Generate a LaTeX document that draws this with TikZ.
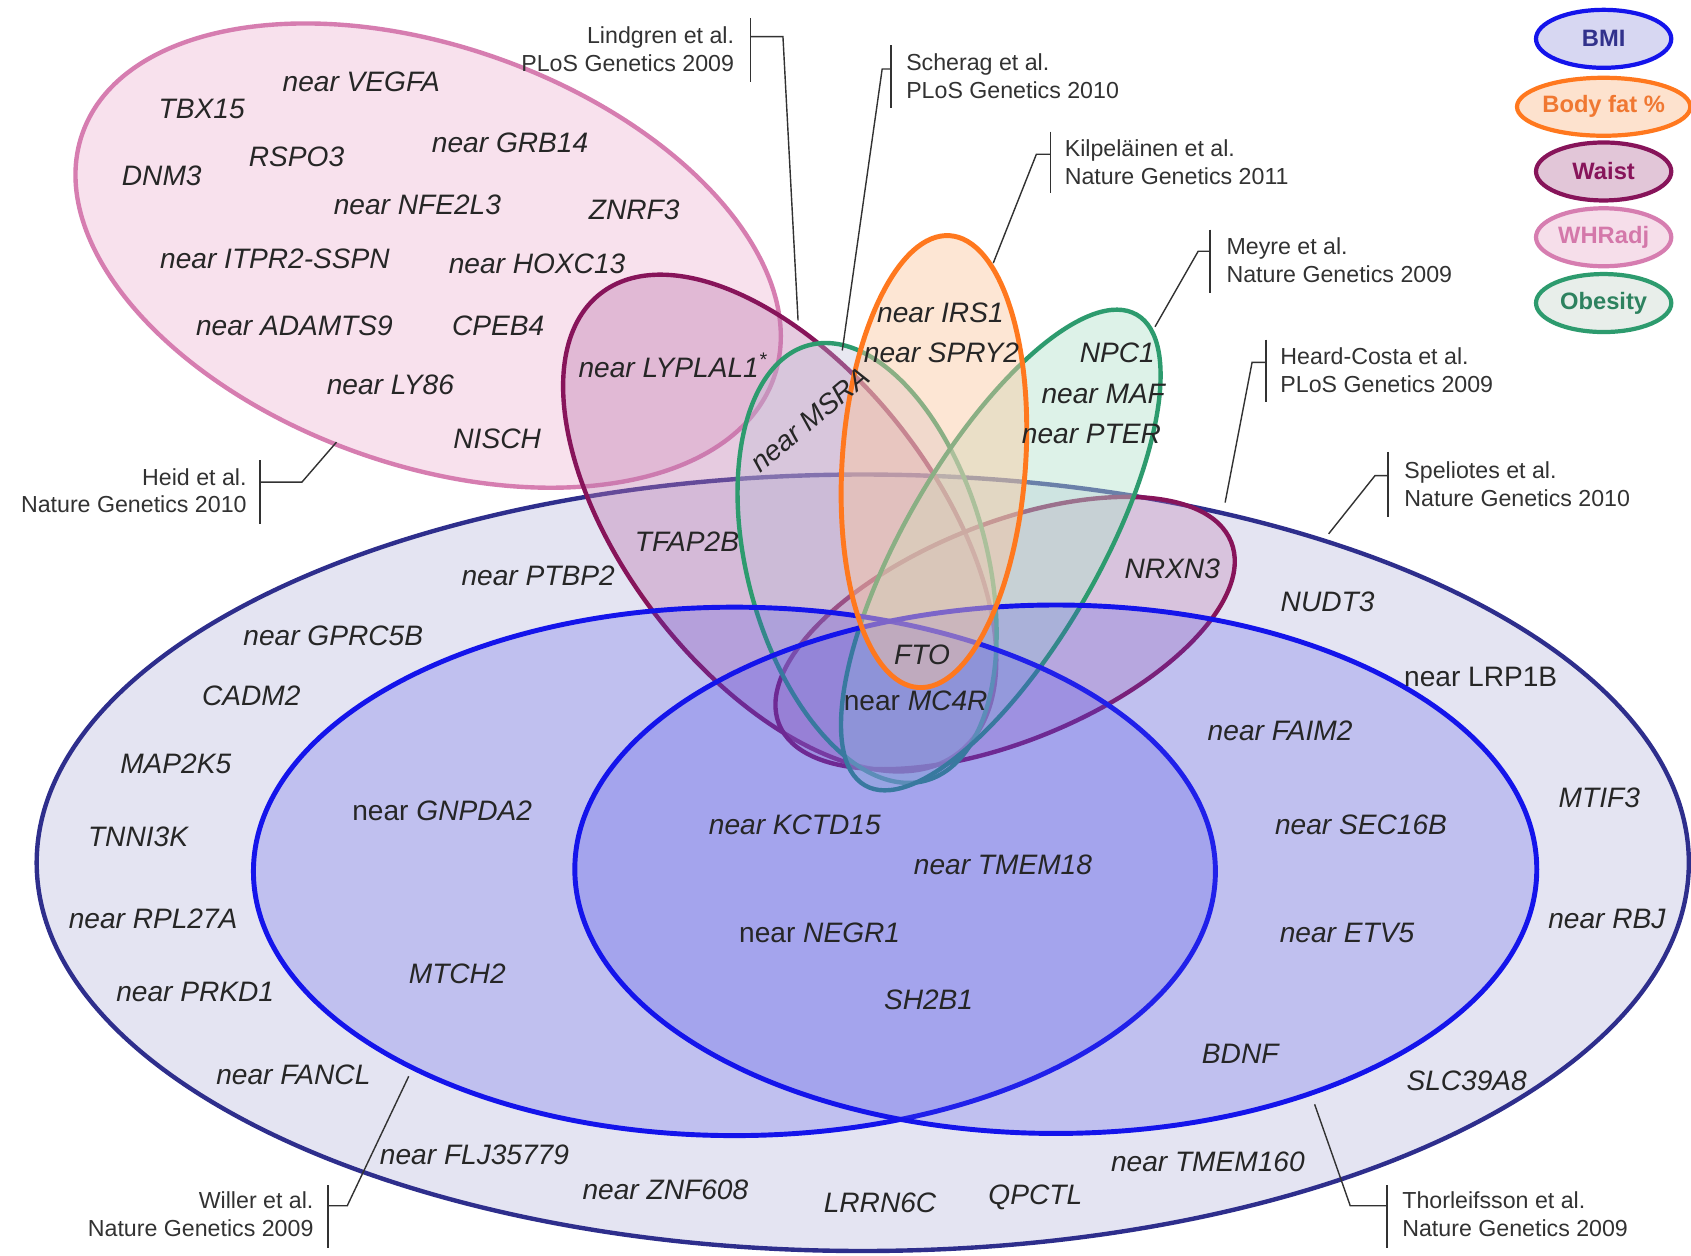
\documentclass[tikz,border=0pt]{standalone}
\usepackage{fontspec}
\setmainfont{Liberation Sans}
\usetikzlibrary{shapes.geometric}
\definecolor{navy}{RGB}{46,46,140}
\definecolor{bmifill}{RGB}{228,228,242}
\definecolor{blueline}{RGB}{20,20,235}
\definecolor{bluefill}{RGB}{75,75,232}
\definecolor{pinkline}{RGB}{214,125,176}
\definecolor{pinkfill}{RGB}{248,222,236}
\definecolor{waistline}{RGB}{135,20,90}
\definecolor{waistfill}{RGB}{190,120,175}
\definecolor{orangeline}{RGB}{255,120,30}
\definecolor{orangefill}{RGB}{252,200,160}
\definecolor{greenline}{RGB}{45,155,110}
\definecolor{greenfill}{RGB}{180,228,205}
\definecolor{grayfill}{RGB}{190,190,215}
\definecolor{citegray}{RGB}{50,50,50}
\definecolor{leadgray}{RGB}{50,50,50}
\begin{document}
\begin{tikzpicture}[x=0.021569cm,y=-0.021569cm,
  gene/.style={font=\fontsize{16}{19}\selectfont\itshape, inner sep=0pt, text=black!85},
  cite/.style={font=\fontsize{13.2}{15.9}\selectfont, text=citegray, inner sep=0pt},
  lead/.style={draw=leadgray, line width=0.8pt},
  legend/.style={ellipse, minimum width=77pt, minimum height=33pt, line width=2.4pt, font=\fontsize{13.5}{16}\selectfont\bfseries, inner sep=0pt},
  shapeline/.style={line width=2.5pt},
]
\useasboundingbox (0,0) rectangle (1568,1164);
\fill[white] (0,0) rectangle (1568,1164);

% BMI outer
\path[shapeline, draw=navy, fill=bmifill] (800,800) ellipse [x radius=766, y radius=360];
% WHRadj
\path[shapeline, draw=pinkline, fill=pinkfill, fill opacity=0.9, rotate around={-19.5:(397,237)}] (397,237) ellipse [x radius=340, y radius=194];
% Waist (large, tilted)
\path[shapeline, draw=waistline, fill=waistfill, fill opacity=0.38, rotate around={-52:(723,485)}] (723,485) ellipse [x radius=270, y radius=143];
% Waist (NRXN3)
\path[shapeline, draw=waistline, fill=waistfill, fill opacity=0.3, rotate around={22:(932,587)}] (932,587) ellipse [x radius=226, y radius=101];
% Obesity 1
\path[shapeline, draw=greenline, fill=grayfill, fill opacity=0.35, rotate around={-75:(804,522)}] (804,522) ellipse [x radius=209, y radius=111];
% Obesity 2
\path[shapeline, draw=greenline, fill=greenfill, fill opacity=0.45, rotate around={60:(928,510)}] (928,510) ellipse [x radius=252, y radius=90];
% BMI inner ellipses
\path[shapeline, line width=2.8pt, draw=blueline, fill=bluefill, fill opacity=0.23] (681,808) ellipse [x radius=446, y radius=245];
\path[shapeline, line width=2.8pt, draw=blueline, fill=bluefill, fill opacity=0.23] (979,806) ellipse [x radius=446, y radius=245];
% Body fat
\path[shapeline, line width=2.8pt, draw=orangeline, fill=orangefill, fill opacity=0.45, rotate around={-4:(866,428)}] (866,428) ellipse [x radius=85, y radius=210];

% Legend
\node[legend, draw=blueline, fill={rgb,255:red,215;green,215;blue,242}, text={rgb,255:red,50;green,50;blue,140}] (lgBMI) at (1487,36) {BMI};
\node[legend, draw=orangeline, fill={rgb,255:red,253;green,226;blue,206}, text={rgb,255:red,240;green,120;blue,50}] (lgFat) at (1487,99) {Body fat \%};
\node[legend, draw=waistline, fill={rgb,255:red,226;green,198;blue,216}, text=waistline] (lgWaist) at (1487,159) {Waist};
\node[legend, draw=pinkline, fill={rgb,255:red,246;green,222;blue,234}, text={rgb,255:red,212;green,120;blue,170}] (lgWHR) at (1487,220) {WHRadj};
\node[legend, draw=greenline, fill={rgb,255:red,232;green,238;blue,234}, text={rgb,255:red,45;green,130;blue,95}] (lgObes) at (1487,281) {Obesity};

% Gene labels
\node[gene] (g1) at (335,76) {near VEGFA};
\node[gene] (g2) at (187,101) {TBX15};
\node[gene] (g3) at (275,145) {RSPO3};
\node[gene] (g4) at (473,132) {near GRB14};
\node[gene] (g5) at (150,163) {DNM3};
\node[gene] (g6) at (387,190) {near NFE2L3};
\node[gene] (g7) at (588,195) {ZNRF3};
\node[gene] (g8) at (255,240) {near ITPR2-SSPN};
\node[gene] (g9) at (498,245) {near HOXC13};
\node[gene] (g10) at (273,302) {near ADAMTS9};
\node[gene] (g11) at (462,302) {CPEB4};
\node[gene] (g12) at (362,357) {near LY86};
\node[gene] (g13) at (461,407) {NISCH};
\node[gene] (g14) at (624,339) {near LYPLAL1\textsuperscript{*}};
\node[gene, rotate=40] (g15) at (751,389) {near MSRA};
\node[gene] (g16) at (872,290) {near IRS1};
\node[gene] (g17) at (873,327) {near SPRY2};
\node[gene] (g18) at (1036,327) {NPC1};
\node[gene] (g19) at (1023,365) {near MAF};
\node[gene] (g20) at (1012,402) {near PTER};
\node[gene] (g21) at (637,502) {TFAP2B};
\node[gene] (g22) at (499,534) {near PTBP2};
\node[gene] (g23) at (1087,527) {NRXN3};
\node[gene] (g24) at (1231,558) {NUDT3};
\node[gene] (g25) at (309,590) {near GPRC5B};
\node[gene] (g26) at (855,607) {FTO};
\node[gene] (g27) at (1373,628) {\upshape near LRP1B};
\node[gene] (g28) at (233,645) {CADM2};
\node[gene] (g29) at (849,650) {\upshape near \itshape MC4R};
\node[gene] (g30) at (1187,678) {near FAIM2};
\node[gene] (g31) at (163,708) {MAP2K5};
\node[gene] (g32) at (1483,740) {MTIF3};
\node[gene] (g33) at (410,752) {\upshape near \itshape GNPDA2};
\node[gene] (g34) at (737,765) {near KCTD15};
\node[gene] (g35) at (1262,765) {near SEC16B};
\node[gene] (g36) at (128,776) {TNNI3K};
\node[gene] (g37) at (930,802) {near TMEM18};
\node[gene] (g38) at (142,852) {near RPL27A};
\node[gene] (g39) at (1490,852) {near RBJ};
\node[gene] (g40) at (760,865) {\upshape near \itshape NEGR1};
\node[gene] (g41) at (1249,865) {near ETV5};
\node[gene] (g42) at (424,903) {MTCH2};
\node[gene] (g43) at (181,920) {near PRKD1};
\node[gene] (g44) at (861,927) {SH2B1};
\node[gene] (g45) at (1150,977) {BDNF};
\node[gene] (g46) at (272,997) {near FANCL};
\node[gene] (g47) at (1360,1002) {SLC39A8};
\node[gene] (g48) at (440,1071) {near FLJ35779};
\node[gene] (g49) at (1120,1077) {near TMEM160};
\node[gene] (g50) at (617,1103) {near ZNF608};
\node[gene] (g51) at (816,1115) {LRRN6C};
\node[gene] (g52) at (960,1110) {QPCTL};

% Citations
\node[cite, anchor=east, align=right] (cLind) at (681,45.5) {Lindgren et al.\\PLoS Genetics 2009};
\node[cite, anchor=west, align=left] (cSch) at (840,71) {Scherag et al.\\PLoS Genetics 2010};
\node[cite, anchor=west, align=left] (cKil) at (987,150) {Kilpeläinen et al.\\Nature Genetics 2011};
\node[cite, anchor=west, align=left] (cMey) at (1137,241) {Meyre et al.\\Nature Genetics 2009};
\node[cite, anchor=west, align=left] (cHea) at (1187,343) {Heard-Costa et al.\\PLoS Genetics 2009};
\node[cite, anchor=west, align=left] (cSpe) at (1302,449) {Speliotes et al.\\Nature Genetics 2010};
\node[cite, anchor=east, align=right] (cHei) at (229,455) {Heid et al.\\Nature Genetics 2010};
\node[cite, anchor=east, align=right] (cWil) at (291,1126) {Willer et al.\\Nature Genetics 2009};
\node[cite, anchor=west, align=left] (cTho) at (1300,1126) {Thorleifsson et al.\\Nature Genetics 2009};

% Brackets and leaders
\coordinate (lindT) at (696,17);  \coordinate (lindB) at (696,76);
\coordinate (lindS) at (726,34);  \coordinate (lindE) at (740,297);
\draw[lead] (lindT) -- (lindB);
\draw[lead] (lindS -| lindT) -- (lindS) -- (lindE);

\coordinate (schT) at (826,42);  \coordinate (schB) at (826,100);
\coordinate (schS) at (818,64);  \coordinate (schE) at (781,325);
\draw[lead] (schT) -- (schB);
\draw[lead] (schS -| schT) -- (schS) -- (schE);

\coordinate (kilT) at (974,122);  \coordinate (kilB) at (974,179);
\coordinate (kilS) at (961,143);  \coordinate (kilE) at (921,244);
\draw[lead] (kilT) -- (kilB);
\draw[lead] (kilS -| kilT) -- (kilS) -- (kilE);

\coordinate (meyT) at (1122,213);  \coordinate (meyB) at (1122,272);
\coordinate (meyS) at (1111,233);  \coordinate (meyE) at (1071,303);
\draw[lead] (meyT) -- (meyB);
\draw[lead] (meyS -| meyT) -- (meyS) -- (meyE);

\coordinate (heaT) at (1174,315);  \coordinate (heaB) at (1174,373);
\coordinate (heaS) at (1161,336);  \coordinate (heaE) at (1136,466);
\draw[lead] (heaT) -- (heaB);
\draw[lead] (heaS -| heaT) -- (heaS) -- (heaE);

\coordinate (speT) at (1287,419);  \coordinate (speB) at (1287,479);
\coordinate (speS) at (1275,441);  \coordinate (speE) at (1232,495);
\draw[lead] (speT) -- (speB);
\draw[lead] (speS -| speT) -- (speS) -- (speE);

\coordinate (heiT) at (241,427);  \coordinate (heiB) at (241,486);
\coordinate (heiS) at (280,447);  \coordinate (heiE) at (312,410);
\draw[lead] (heiT) -- (heiB);
\draw[lead] (heiS -| heiT) -- (heiS) -- (heiE);

\coordinate (wilT) at (304,1099);  \coordinate (wilB) at (304,1157);
\coordinate (wilS) at (322,1118);  \coordinate (wilE) at (379,998);
\draw[lead] (wilT) -- (wilB);
\draw[lead] (wilS -| wilT) -- (wilS) -- (wilE);

\coordinate (thoT) at (1286,1099);  \coordinate (thoB) at (1286,1157);
\coordinate (thoS) at (1252,1118);  \coordinate (thoE) at (1219,1024);
\draw[lead] (thoT) -- (thoB);
\draw[lead] (thoS -| thoT) -- (thoS) -- (thoE);
\end{tikzpicture}
\end{document}
